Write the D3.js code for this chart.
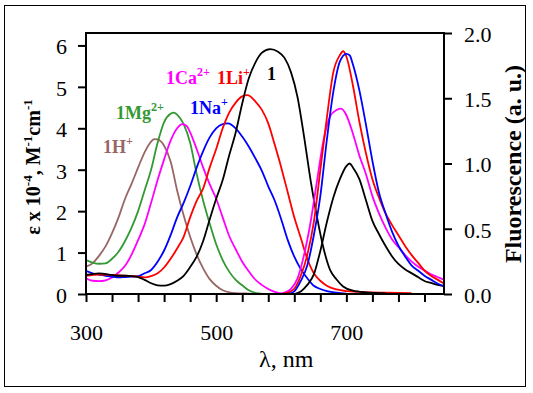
<!DOCTYPE html>
<html><head><meta charset="utf-8">
<script src="https://cdn.jsdelivr.net/npm/d3@7"></script>
<style>
html,body{margin:0;padding:0;background:#fff;}
svg{display:block;}
text{font-family:"Liberation Serif","Times New Roman",serif;}
</style></head>
<body><svg id="c" width="533" height="393"></svg>
<script>
// ---- data (wavelength nm, value) ----
// absorption, left axis (ε x 10^-4)
const absH = [[300,0.66],[310,0.74],[320,0.92],[330,1.15],[340,1.47],[350,1.85],[360,2.3],[370,2.66],[380,3.05],[390,3.42],[400,3.68],[405,3.74],[410,3.73],[420,3.58],[430,3.2],[440,2.5],[450,1.9],[460,1.38],[470,0.95],[480,0.62],[490,0.36],[500,0.2],[510,0.09],[520,0.04],[530,0.02],[550,0.01],[600,0],[700,0],[800,0]];
const absMg = [[300,0.82],[310,0.76],[320,0.73],[330,0.74],[340,0.85],[350,1.02],[360,1.28],[370,1.6],[380,2.0],[390,2.5],[400,3.0],[410,3.65],[420,4.15],[430,4.35],[435,4.38],[440,4.33],[450,4.1],[460,3.65],[470,2.9],[480,2.25],[490,1.7],[500,1.2],[510,0.82],[520,0.54],[530,0.34],[540,0.21],[550,0.09],[560,0.03],[570,0]];
const absCa = [[300,0.38],[310,0.32],[320,0.31],[330,0.33],[340,0.4],[350,0.52],[360,0.68],[370,0.95],[380,1.3],[390,1.68],[400,2.2],[410,2.75],[420,3.25],[430,3.7],[440,4.0],[448,4.1],[455,4.05],[460,3.9],[470,3.5],[480,3.05],[490,2.65],[500,2.3],[510,1.85],[520,1.4],[530,1.08],[540,0.78],[550,0.55],[560,0.35],[570,0.22],[580,0.12],[590,0.05],[600,0.01],[610,0]];
const absNa = [[300,0.56],[310,0.5],[320,0.47],[330,0.44],[340,0.42],[350,0.4],[360,0.41],[370,0.42],[380,0.43],[390,0.5],[400,0.58],[410,0.78],[420,1.05],[430,1.42],[440,1.85],[450,2.2],[460,2.6],[470,3.05],[480,3.45],[490,3.78],[500,4.0],[510,4.1],[518,4.12],[530,4.0],[540,3.8],[550,3.56],[560,3.28],[570,2.98],[580,2.6],[590,2.25],[600,1.8],[610,1.3],[620,0.9],[630,0.6],[640,0.38],[650,0.2],[660,0.12],[670,0.07],[685,0.03],[700,0.01]];
const absLi = [[300,0.44],[320,0.47],[340,0.46],[360,0.44],[380,0.42],[390,0.4],[400,0.43],[410,0.5],[420,0.64],[430,0.85],[440,1.1],[450,1.38],[460,1.85],[470,2.25],[480,2.55],[490,3.05],[500,3.5],[510,4.0],[520,4.38],[530,4.62],[540,4.77],[548,4.8],[560,4.65],[570,4.45],[580,4.12],[590,3.6],[600,3.05],[610,2.45],[620,1.85],[630,1.35],[640,0.85],[650,0.5],[660,0.32],[670,0.2],[685,0.11],[700,0.07],[720,0.05],[760,0.03],[800,0.02]];
const abs1 = [[300,0.46],[320,0.5],[340,0.46],[350,0.44],[360,0.44],[370,0.43],[380,0.41],[390,0.34],[400,0.26],[410,0.21],[420,0.2],[430,0.24],[440,0.32],[450,0.44],[460,0.65],[470,0.9],[480,1.28],[490,1.8],[500,2.3],[510,2.75],[520,3.35],[530,3.9],[540,4.6],[550,5.2],[560,5.58],[570,5.82],[583,5.91],[595,5.85],[605,5.7],[615,5.35],[625,4.75],[635,3.8],[645,2.75],[655,1.85],[665,1.1],[675,0.58],[685,0.35],[695,0.18],[710,0.08],[730,0.04],[760,0.02]];
// fluorescence, right axis (a. u.)
const flLi = [[600,0],[610,0.01],[620,0.04],[630,0.14],[640,0.3],[650,0.55],[660,0.95],[670,1.35],[680,1.7],[690,1.83],[695,1.86],[700,1.82],[710,1.6],[720,1.32],[730,1.08],[740,0.88],[750,0.74],[760,0.62],[770,0.53],[780,0.45],[790,0.37],[800,0.3],[810,0.24],[820,0.18],[830,0.14],[840,0.11],[850,0.08]];
const flNa = [[610,0],[620,0.02],[630,0.1],[640,0.22],[650,0.45],[660,0.75],[670,1.18],[680,1.55],[690,1.78],[700,1.84],[705,1.83],[710,1.76],[720,1.56],[730,1.3],[740,1.02],[750,0.78],[760,0.62],[770,0.48],[780,0.37],[790,0.29],[800,0.22],[810,0.18],[820,0.14],[830,0.11],[840,0.08],[850,0.06]];
const flCa = [[595,0],[605,0.01],[615,0.04],[625,0.12],[635,0.3],[645,0.55],[655,0.87],[665,1.18],[675,1.36],[685,1.41],[692,1.42],[700,1.37],[710,1.23],[720,1.06],[730,0.92],[740,0.75],[750,0.62],[760,0.51],[770,0.42],[780,0.36],[790,0.3],[800,0.25],[810,0.21],[820,0.18],[830,0.15],[840,0.13],[850,0.11]];
const fl1 = [[620,0],[630,0.02],[640,0.07],[650,0.15],[660,0.33],[670,0.55],[680,0.74],[690,0.88],[700,0.98],[705,1.0],[710,0.97],[720,0.88],[730,0.72],[740,0.56],[750,0.46],[760,0.37],[770,0.29],[780,0.23],[790,0.19],[800,0.16],[810,0.13],[820,0.1],[830,0.085],[840,0.07],[850,0.06]];

const xTicks = [300,340,380,420,460,500,540,580,620,660,700,740,780,820];
const xTickLabels = [300,500,700];
const yLeftTicks = [0,1,2,3,4,5,6];
const yRightTicks = [0,0.5,1.0,1.5,2.0];

const colors = {H:"#996666", Mg:"#339933", Ca:"#ff00ff", Na:"#0000ff", Li:"#ff0000", one:"#000000"};

// ---- layout ----
const svg = d3.select("#c");
const L = 86, R = 444, T = 33, B = 294;
const x = d3.scaleLinear().domain([300,850]).range([L,R]);
const yL = d3.scaleLinear().domain([0,6.3]).range([B,T]);
const yR = d3.scaleLinear().domain([0,2.0]).range([B,T]);

svg.append("rect").attr("x",4.5).attr("y",5.5).attr("width",521).attr("height",381)
  .attr("fill","none").attr("stroke","#000").attr("stroke-width",1);

svg.append("defs").append("clipPath").attr("id","clip")
  .append("rect").attr("x",L).attr("y",T-2).attr("width",R-L).attr("height",B-T+3);

const g = svg.append("g").attr("clip-path","url(#clip)");
const lineL = d3.line().x(d=>x(d[0])).y(d=>yL(d[1])).curve(d3.curveMonotoneX);
const lineR = d3.line().x(d=>x(d[0])).y(d=>yR(d[1])).curve(d3.curveMonotoneX);

const series = [
  [absH, lineL, colors.H],[absMg, lineL, colors.Mg],[absCa, lineL, colors.Ca],
  [absNa, lineL, colors.Na],[absLi, lineL, colors.Li],[abs1, lineL, colors.one],
  [fl1, lineR, colors.one],[flCa, lineR, colors.Ca],[flLi, lineR, colors.Li],[flNa, lineR, colors.Na]
];
series.forEach(([d,ln,c])=>{
  g.append("path").attr("d",ln(d)).attr("fill","none").attr("stroke",c).attr("stroke-width",1.8);
});

// ---- axes ----
const fontTick = 22;
const ax = svg.append("g").attr("transform",`translate(0,${B})`)
  .call(d3.axisBottom(x).tickValues(xTicks).tickSize(8).tickFormat(d=>xTickLabels.includes(d)?d:""));
ax.select(".domain").remove();
ax.selectAll("line").attr("stroke","#000").attr("stroke-width",2);
ax.selectAll("text").attr("font-size",fontTick).attr("fill","#000").attr("font-family","Liberation Serif, serif").attr("dy",null).attr("y",46);

const ayl = svg.append("g").attr("transform",`translate(${L},0)`)
  .call(d3.axisLeft(yL).tickValues(yLeftTicks).tickSize(8).tickFormat(d3.format("d")));
ayl.select(".domain").remove();
ayl.selectAll("line").attr("stroke","#000").attr("stroke-width",2);
ayl.selectAll("text").attr("font-size",fontTick).attr("fill","#000").attr("font-family","Liberation Serif, serif").attr("x",-19).attr("dy","0.38em");

const ayr = svg.append("g").attr("transform",`translate(${R},0)`)
  .call(d3.axisRight(yR).tickValues(yRightTicks).tickSize(8).tickFormat(d3.format(".1f")));
ayr.select(".domain").remove();
ayr.selectAll("line").attr("stroke","#000").attr("stroke-width",2);
ayr.selectAll("text").attr("font-size",fontTick).attr("fill","#000").attr("font-family","Liberation Serif, serif").attr("x",20).attr("dy","0.38em");

// frame lines
svg.append("path").attr("d",`M${L},${B}V${T}H${R}V${B}H${L}`).attr("fill","none")
  .attr("stroke","#000").attr("stroke-width",2);

// zero baseline of non-fluorescent species drawn over axis
g.append("path").attr("d",lineR([[570,0],[800,0]])).attr("stroke",colors.H).attr("stroke-width",2).attr("fill","none");

// ---- titles ----
function rich(sel, parts, base, sup){
  parts.forEach(p=>{
    const t = sel.append("tspan").text(p[0]);
    t.attr("font-size", p[1] ? sup : base);
  });
  let shift = 0;
  sel.selectAll("tspan").each(function(d,i){
    const want = parts[i][1] ? -base*0.42 : 0;
    d3.select(this).attr("dy", want - shift);
    shift = want;
  });
  return sel;
}

rich(svg.append("text").attr("transform","translate(40,167) rotate(-90)")
  .attr("text-anchor","middle").attr("font-weight","bold"),
  [["ε x 10"],["-4",1],[", M"],["-1",1],["cm"],["-1",1]], 20, 13);

svg.append("text").attr("transform","translate(521,164) rotate(-90)")
  .attr("text-anchor","middle").attr("font-weight","bold").attr("font-size",24)
  .text("Fluorescence (a. u.)");

svg.append("text").attr("x",259).attr("y",367).attr("font-size",24).text("λ, nm");

// ---- series labels ----
const labels = [
  {parts:[["1H"],["+",1]], x:103, y:153, c:colors.H},
  {parts:[["1Mg"],["2+",1]], x:116, y:119, c:colors.Mg},
  {parts:[["1Ca"],["2+",1]], x:166, y:84, c:colors.Ca},
  {parts:[["1Li"],["+",1]], x:217, y:84, c:colors.Li},
  {parts:[["1Na"],["+",1]], x:190, y:114, c:colors.Na},
  {parts:[["1"]], x:267, y:80, c:colors.one}
];
labels.forEach(l=>{
  rich(svg.append("text").attr("x",l.x).attr("y",l.y).attr("fill",l.c).attr("font-weight","bold"),
    l.parts, 18, 12);
});
</script></body></html>
